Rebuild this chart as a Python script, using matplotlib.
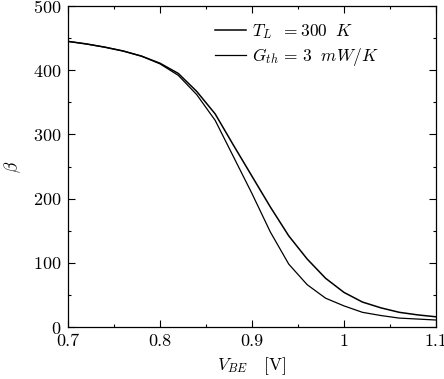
import matplotlib
matplotlib.use("Agg")
import matplotlib.pyplot as plt
from matplotlib.ticker import MultipleLocator, FormatStrFormatter

plt.rcParams['mathtext.fontset'] = 'cm'
plt.rcParams['font.family'] = 'serif'
plt.rcParams['font.serif'] = ['cmr10', 'DejaVu Serif']
plt.rcParams['axes.formatter.use_mathtext'] = True

v_be = [0.70, 0.72, 0.74, 0.76, 0.78, 0.80, 0.82, 0.84, 0.86, 0.88, 0.90,
        0.92, 0.94, 0.96, 0.98, 1.00, 1.02, 1.04, 1.06, 1.08, 1.10]
beta_tl300 = [445, 441, 436, 430, 422, 411, 395, 367, 332, 283, 235,
              187, 142, 106, 76, 54, 39, 30, 23, 19, 16]
beta_gth3 = [445, 441, 436, 430, 422, 410, 392, 362, 322, 265, 208,
             148, 98, 66, 45, 33, 23, 18, 14, 12.5, 11]
labels = [r'$T_L\;\ =300\;\ K$', r'$G_{th}\,=\,3\;\ mW/K$']

fig = plt.figure(figsize=(4.44, 3.79), dpi=100)
ax = fig.add_axes([0.153, 0.137, 0.829, 0.847])
ax.plot(v_be, beta_tl300, color='black', lw=1.1, label=labels[0])
ax.plot(v_be, beta_gth3, color='black', lw=0.9, label=labels[1])

ax.set_xlim(0.7, 1.1)
ax.set_ylim(0, 500)
ax.xaxis.set_major_locator(MultipleLocator(0.1))
ax.xaxis.set_minor_locator(MultipleLocator(0.05))
ax.yaxis.set_major_locator(MultipleLocator(100))
ax.yaxis.set_minor_locator(MultipleLocator(50))
ax.xaxis.set_major_formatter(FormatStrFormatter('%g'))
ax.tick_params(which='both', direction='in', top=True, right=True, labelsize=13, width=0.8)
ax.tick_params(which='major', length=5, pad=5)
ax.tick_params(which='minor', length=2.5)
for s in ax.spines.values():
    s.set_linewidth(0.9)

ax.set_xlabel(r'$V_{BE}$   [V]', fontsize=12.5, labelpad=4)
ax.set_ylabel(r'$\beta$', fontsize=12.5, labelpad=7)
ax.legend(loc='upper left', frameon=False, fontsize=12.5, handlelength=1.75,
          handletextpad=0.35, labelspacing=0.3, borderpad=0, borderaxespad=0,
          bbox_to_anchor=(0.40, 0.95))

fig.savefig('out.png', dpi=100)
